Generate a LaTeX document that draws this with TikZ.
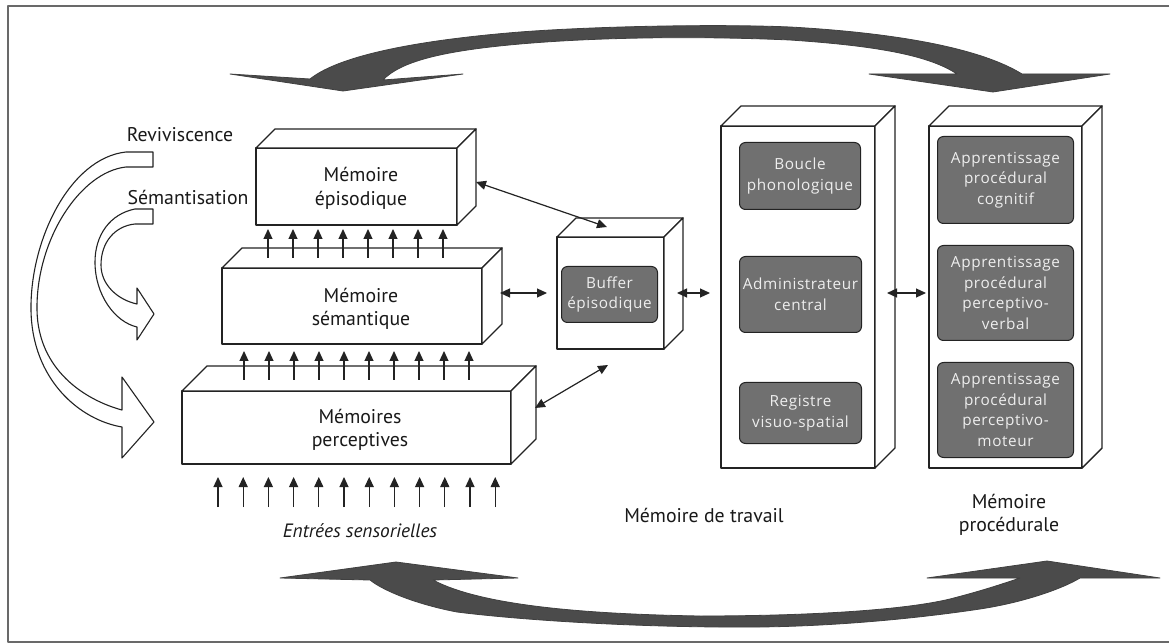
\documentclass[tikz,border=0pt]{standalone}
\usepackage{fontspec}
\setmainfont{PT Sans}
\newfontfamily\boxfont[LetterSpace=4]{Open Sans}
\usetikzlibrary{arrows.meta}
\definecolor{boxgray}{RGB}{112,112,112}
\definecolor{boxtext}{RGB}{238,238,238}
\definecolor{bigarrow}{RGB}{75,75,75}
\definecolor{edgec}{RGB}{35,35,35}
\definecolor{framec}{RGB}{105,105,105}
\newcommand\mycuboid[6]{%
  \node[frontface, minimum width={#4-#2}, minimum height={#5-#3}] (#1) at (#2,#3) {};
  \draw[face] (#2,#3) -- (#2+#6,#3-#6) -- (#4+#6,#3-#6) -- (#4,#3) -- cycle;
  \draw[face] (#4,#3) -- (#4+#6,#3-#6) -- (#4+#6,#5-#6) -- (#4,#5) -- cycle;
}
\begin{document}
\begin{tikzpicture}[x=1pt,y=-1pt, line join=round,
  >={Triangle[length=10pt,width=9pt]},
  face/.style={draw=edgec, line width=1.4pt, fill=white},
  frontface/.style={face, inner sep=0pt, outer sep=0pt, anchor=north west},
  graybox/.style={draw=edgec, line width=1pt, fill=boxgray, rounded corners=6pt, text=boxtext,
     font=\boxfont\fontsize{15.3}{20.5}\selectfont, align=center, inner sep=0pt, anchor=north west},
  lbl/.style={font=\fontsize{19.8}{23.5}\selectfont, align=center, text=black!90},
  link/.style={draw=edgec, line width=1.2pt, <->},
  uparrow/.style={draw=edgec, line width=1.2pt, ->},
  bigarr/.style={fill=bigarrow, draw=black!75, line width=0.8pt},
  openarr/.style={fill=white, draw=edgec, line width=1.1pt}]
\useasboundingbox (0,0) rectangle (1176,644);
\fill[white] (0,0) rectangle (1176,644);
% frame
\draw[framec, line width=1.2pt] (1169,6) -- (8,6) -- (8,642) -- (1169,642);

% big dark arrows
\path[bigarr] (230,74) -- (310,79) .. controls (340,55) and (420,40) .. (520,32)
  .. controls (600,26) and (720,24) .. (790,27) .. controls (880,32) and (975,45) .. (1022,74)
  -- (1110,74) -- (993,92) -- (869,74) -- (957,74)
  .. controls (930,56) and (880,46) .. (790,40) .. controls (700,36) and (600,37) .. (520,44)
  .. controls (440,51) and (400,62) .. (383,80) -- (463,74) -- (343,91) -- cycle;
\path[bigarr] (280,578) -- (396,562) -- (518,578) -- (433,580)
  .. controls (480,605) and (580,614) .. (700,616) .. controls (800,616) and (900,611) .. (950,599)
  .. controls (985,590) and (1005,583) .. (1020,578) -- (927,578) -- (1047,561) -- (1160,578) -- (1080,578)
  .. controls (1060,590) and (1020,603) .. (980,609) .. controls (920,618) and (840,626) .. (760,627)
  .. controls (640,628) and (520,620) .. (457,612) .. controls (420,605) and (385,592) .. (370,580) -- cycle;

% open curved arrows
\path[openarr] (153,152) -- (126,152) .. controls (70,158) and (30,240) .. (31,310)
  .. controls (32,380) and (80,420) .. (122,427) -- (122,458) -- (154,422) -- (122,377) -- (122,410)
  .. controls (85,400) and (38,370) .. (37,310) .. controls (36,240) and (80,172) .. (126,167)
  -- (153,167) -- cycle;
\path[openarr] (153,209) -- (135,209) .. controls (110,214) and (95,235) .. (95,262)
  .. controls (95,295) and (115,322) .. (137,327) -- (137,340) -- (154,314) -- (137,288) -- (137,304)
  .. controls (118,300) and (101,285) .. (101,265) .. controls (101,242) and (115,226) .. (135,224)
  -- (153,224) -- cycle;
\node[lbl, anchor=center] (rev) at (180,135) {Reviviscence};
\node[lbl, anchor=center] (sema) at (188,197) {Sémantisation};

% cuboids
\mycuboid{epi}{256}{148}{457}{225}{19}
\mycuboid{sem}{222}{268}{482}{344}{20}
\mycuboid{perc}{182}{391}{511}{464}{25}
\mycuboid{buf}{557}{237}{664}{349}{19}
\mycuboid{mdt}{721}{126}{875}{468}{20}
\mycuboid{proc}{929}{126}{1082}{468}{20}

\node[lbl] (tepi) at (361,188.5) {Mémoire\\épisodique};
\node[lbl] (tsem) at (361,309) {Mémoire\\sémantique};
\node[lbl] (tperc) at (360,430) {Mémoires\\perceptives};

% gray boxes
\node[graybox, minimum width=96, minimum height=56] (gbuf) at (561,266) {Buffer\\épisodique};
\node[graybox, minimum width=121, minimum height=67] (boucle) at (739,142) {Boucle\\phonologique};
\node[graybox, minimum width=122, minimum height=76] (admin) at (739,256) {Administrateur\\central};
\node[graybox, minimum width=122, minimum height=61] (regis) at (739,382) {Registre\\visuo-spatial};
\node[graybox, minimum width=136, minimum height=87] (pa1) at (937,136) {Apprentissage\\procédural\\cognitif};
\node[graybox, minimum width=136, minimum height=95] (pa2) at (937,245) {Apprentissage\\procédural\\perceptivo-\\verbal};
\node[graybox, minimum width=136, minimum height=95] (pa3) at (937,362) {Apprentissage\\procédural\\perceptivo-\\moteur};

% labels
\node[lbl] (mdtl) at (704,515) {Mémoire de travail};
\node[lbl] (procl) at (1009,515) {Mémoire\\procédurale};
\node[lbl, font=\itshape\fontsize{19.3}{22}\selectfont] (entrees) at (360,531) {Entrées sensorielles};

% connectors
\coordinate (e1) at (476,182); \coordinate (b1) at (607,227);
\coordinate (s1) at (500,293); \coordinate (b2) at (547,293);
\coordinate (p1) at (535,408); \coordinate (b3) at (608,365);
\coordinate (b4) at (677,293); \coordinate (m1) at (710,293);
\coordinate (m2) at (887,293); \coordinate (q1) at (926,293);
\draw[link] (e1) -- (b1);
\draw[link] (s1) -- (b2);
\draw[link] (p1) -- (b3);
\draw[link] (b4) -- (m1);
\draw[link] (m2) -- (q1);

% upward arrows
\foreach \i in {0,...,7} \draw[uparrow] (268+25*\i,258) -- (268+25*\i,229);
\foreach \i in {0,...,9} \draw[uparrow] (244+25*\i,380) -- (244+25*\i,351);
\foreach \i in {0,...,11} \draw[uparrow] (218+25.2*\i,507) -- (218+25.2*\i,477);
\end{tikzpicture}
\end{document}
